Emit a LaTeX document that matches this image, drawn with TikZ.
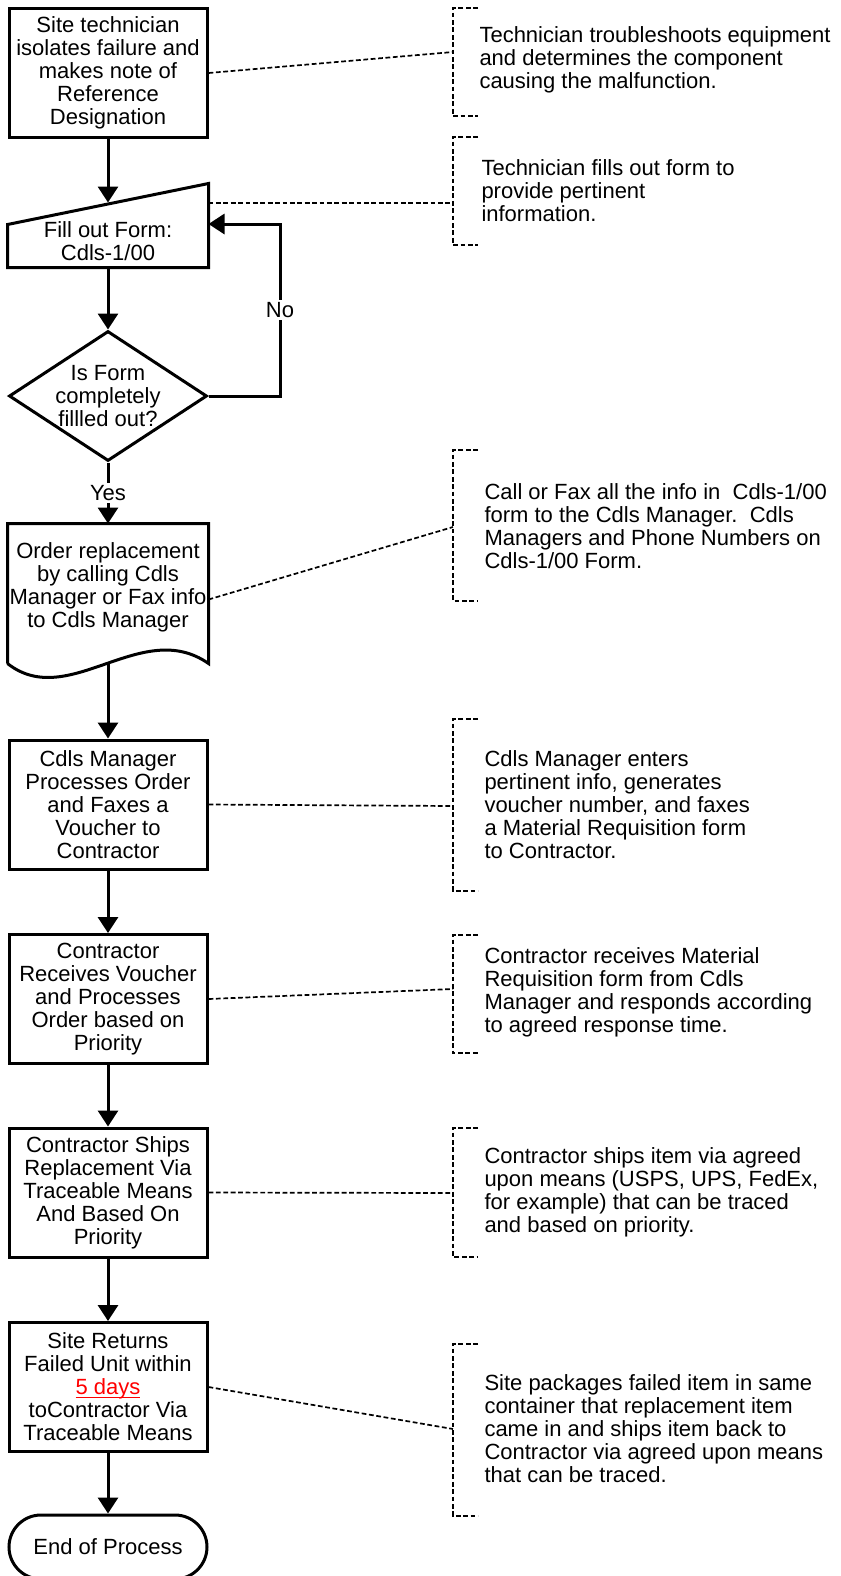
\documentclass[tikz,border=0pt]{standalone}
\usepackage{fontspec}
\setmainfont{Liberation Sans}
\usetikzlibrary{arrows.meta,shapes.geometric}
\newcommand{\redline}[1]{\textcolor{red}{\setbox0\hbox{#1}\rlap{\rule[-1.6pt]{\wd0}{0.65pt}}\box0}}

\begin{document}
\begin{tikzpicture}[x=0.5pt,y=-0.5pt,line width=1.5pt,>={Triangle[width=10pt,length=8pt]},
    font=\fontsize{11}{11.5}\selectfont]
  \tikzstyle{proc}=[draw,rectangle,minimum width=99pt,minimum height=64.5pt,inner sep=1pt,align=center]
  \tikzstyle{txt}=[rectangle,minimum width=99pt,inner sep=1pt,align=center]
  \tikzstyle{decision}=[draw,diamond,minimum width=99pt,minimum height=65pt,inner sep=0pt]
  \tikzstyle{term}=[draw,rectangle,rounded corners=16pt,minimum width=99pt,minimum height=32pt]
  \tikzstyle{note}=[anchor=west,inner sep=0pt,align=left]
  \tikzstyle{link}=[line width=0.85pt,dash pattern=on 2.4pt off 1.3pt]

  \useasboundingbox (0,0) rectangle (841,1576);

        % flow column
        \node[proc]     (box1) at (108,73)     {Site technician\\isolates failure and\\makes note of\\Reference\\Designation};
        \node[txt,minimum height=25pt] (form) at (108,241) {Fill out Form:\\Cdls-1/00};
        \node[decision,label={[align=center]center:Is Form\\completely\\fillled out?}] (dec) at (108,396) {};
        \node[txt,inner xsep=0pt,minimum height=68.5pt,text depth=8.3pt] (doc) at (108,593.5)
            {Order replacement\\by calling Cdls\\Manager or Fax info\\to Cdls Manager};
        \node[proc]     (mgr)  at (108,804.5)  {Cdls Manager\\Processes Order\\and Faxes a\\Voucher to\\Contractor};
        \node[proc]     (ctr)  at (108,999)    {Contractor\\Receives Voucher\\and Processes\\Order based on\\Priority};
        \node[proc]     (ship) at (108,1192.5) {Contractor Ships\\Replacement Via\\Traceable Means\\And Based On\\Priority};
        \node[proc]     (ret)  at (108,1387)   {Site Returns\\Failed Unit within\\\redline{5 days}\\toContractor Via\\Traceable Means};
        \node[term]     (endp) at (108,1547)   {End of Process};

        % outlines of the form and document shapes
        \draw (form.south west) -- (form.south east) -- ++(0,-84) -- ([yshift=21.5pt]form.south west) -- cycle;
        \draw (doc.south west) -- (doc.north west) -- (doc.north east) -- (doc.south east)
            .. controls +(-67,-47) and +(61,48) .. (doc.south west);

        \coordinate (formtop) at (108,202.5);
        \coordinate (noturn)  at (280,224);

        \path[->] (box1) edge (formtop)
            (form) edge (dec)
            (dec) edge node[fill=white,inner sep=1pt] {Yes} (doc)
            (doc) edge (mgr)
            (mgr) edge (ctr)
            (ctr) edge (ship)
            (ship) edge (ret)
            (ret) edge (endp);
        \draw[->] (dec.east) -| node[pos=0.75,fill=white,inner sep=1pt] {No} (noturn) -- ([yshift=8.5pt]form.east);

        % notes
        \node[note] (n1) at (478,60)     {Technician troubleshoots equipment\\and determines the component\\causing the malfunction.};
        \node[note] (n2) at (480,191)    {Technician fills out form to\\provide pertinent\\information.};
        \node[note] (n3) at (483,526)    {Call or Fax all the info in\ \ Cdls-1/00\\form to the Cdls Manager.\ \ Cdls\\Managers and Phone Numbers on\\Cdls-1/00 Form.};
        \node[note] (n4) at (483,805)    {Cdls Manager enters\\pertinent info, generates\\voucher number, and faxes\\a Material Requisition form\\to Contractor.};
        \node[note] (n5) at (483,992.5)  {Contractor receives Material\\Requisition form from Cdls\\Manager and responds according\\to agreed response time.};
        \node[note] (n6) at (483,1192.5) {Contractor ships item via agreed\\upon means (USPS, UPS, FedEx,\\for example) that can be traced\\and based on priority.};
        \node[note] (n7) at (483,1429)   {Site packages failed item in same\\container that replacement item\\came in and ships item back to\\Contractor via agreed upon means\\that can be traced.};

        % brackets
        \draw[link] (478,8) -| (453,116) -- (478,116);
        \draw[link] (478,137) -| (453,245) -- (478,245);
        \draw[link] (478,450) -| (453,601) -- (478,601);
        \draw[link] (478,719) -| (453,891) -- (478,891);
        \draw[link] (478,935) -| (453,1053) -- (478,1053);
        \draw[link] (478,1128) -| (453,1257) -- (478,1257);
        \draw[link] (478,1344) -| (453,1516) -- (478,1516);

        \coordinate (b1) at (453,52);
        \coordinate (b2) at (453,203);
        \coordinate (b3) at (453,527);
        \coordinate (b4) at (453,806);
        \coordinate (b5) at (453,989);
        \coordinate (b6) at (453,1193);
        \coordinate (b7) at (453,1429);

        \draw[link] (box1.east) -- (b1);
        \draw[link] ([yshift=19pt]form.east) -- (b2);
        \draw[link] ([yshift=-3pt]doc.east) -- (b3);
        \draw[link] (mgr.east) -- (b4);
        \draw[link] (ctr.east) -- (b5);
        \draw[link] (ship.east) -- (b6);
        \draw[link] (ret.east) -- (b7);

\end{tikzpicture}
\end{document}
